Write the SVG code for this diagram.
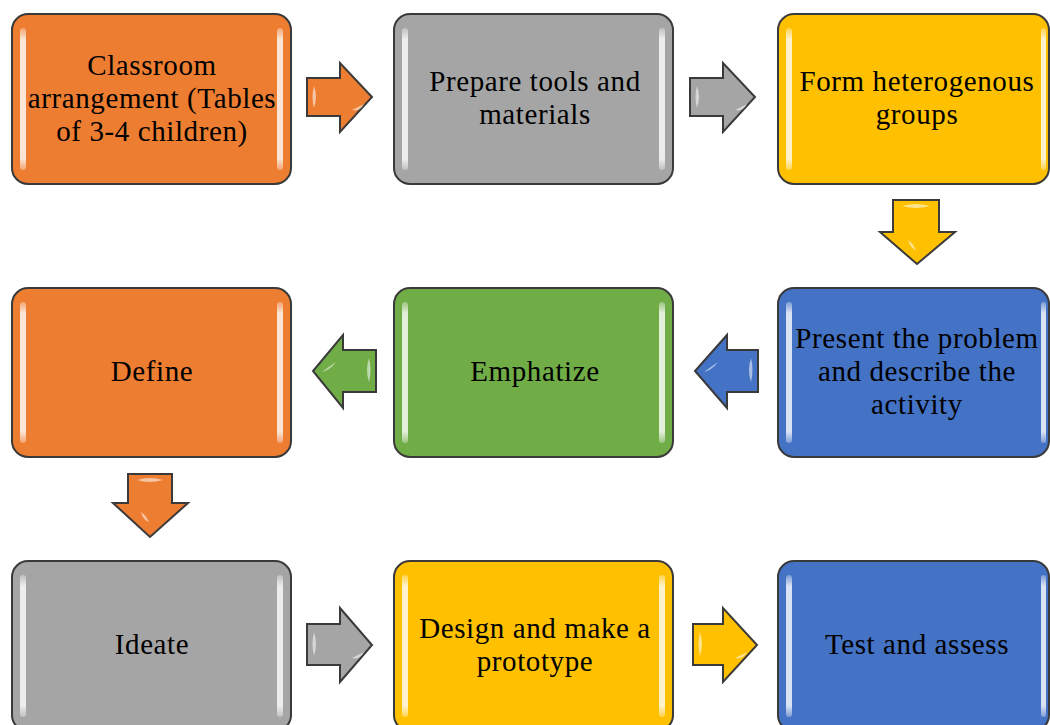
<svg xmlns="http://www.w3.org/2000/svg" width="1050" height="725" viewBox="0 0 1050 725">
<style>
.box{stroke:#3a3a3a;stroke-width:2}
.o{fill:#ED7D31}.g{fill:#A5A5A5}.y{fill:#FFC000}.b{fill:#4472C4}.gr{fill:#70AD47}
.hl{fill:url(#stripe)}
.arr{stroke:#3a3a3a;stroke-width:2;stroke-linejoin:miter}
.shine{fill:#ffffff;opacity:0.55}
text{font-family:"Liberation Serif","Times New Roman",serif;font-size:29px;letter-spacing:0.6px;fill:#000;text-anchor:middle}
</style>
<defs>
<linearGradient id="stripe" x1="0" y1="0" x2="0" y2="1">
<stop offset="0" stop-color="#fff" stop-opacity="0.3"/>
<stop offset="0.08" stop-color="#fff" stop-opacity="0.8"/>
<stop offset="0.92" stop-color="#fff" stop-opacity="0.8"/>
<stop offset="1" stop-color="#fff" stop-opacity="0.3"/>
</linearGradient>
</defs>
<rect width="1050" height="725" fill="#fff"/>

<g id="n1">
<rect class="box o" x="12" y="14" width="279" height="170" rx="16"/>
<rect class="hl" x="20" y="28" width="6" height="142" rx="3"/>
<rect class="hl" x="277" y="28" width="6" height="142" rx="3"/>
<text x="152" y="75">Classroom</text>
<text x="152" y="108">arrangement (Tables</text>
<text x="152" y="141">of 3-4 children)</text>
</g>

<g id="n2">
<rect class="box g" x="394" y="14" width="279" height="170" rx="16"/>
<rect class="hl" x="402" y="28" width="6" height="142" rx="3"/>
<rect class="hl" x="659" y="28" width="6" height="142" rx="3"/>
<text x="535" y="91">Prepare tools and</text>
<text x="535" y="124">materials</text>
</g>

<g id="n3">
<rect class="box y" x="778" y="14" width="271" height="170" rx="16"/>
<rect class="hl" x="786" y="28" width="6" height="142" rx="3"/>
<rect class="hl" x="1041" y="28" width="5" height="142" rx="2.5"/>
<text x="917" y="91">Form heterogenous</text>
<text x="917" y="124">groups</text>
</g>

<g id="n4">
<rect class="box o" x="12" y="288" width="279" height="169" rx="16"/>
<rect class="hl" x="20" y="302" width="6" height="141" rx="3"/>
<rect class="hl" x="277" y="302" width="6" height="141" rx="3"/>
<text x="152" y="381">Define</text>
</g>

<g id="n5">
<rect class="box gr" x="394" y="288" width="279" height="169" rx="16"/>
<rect class="hl" x="402" y="302" width="6" height="141" rx="3"/>
<rect class="hl" x="659" y="302" width="6" height="141" rx="3"/>
<text x="535" y="381">Emphatize</text>
</g>

<g id="n6">
<rect class="box b" x="778" y="288" width="271" height="169" rx="16"/>
<rect class="hl" x="786" y="302" width="6" height="141" rx="3"/>
<rect class="hl" x="1041" y="302" width="5" height="141" rx="2.5"/>
<text x="917" y="348">Present the problem</text>
<text x="917" y="381">and describe the</text>
<text x="917" y="414">activity</text>
</g>

<g id="n7">
<rect class="box g" x="12" y="561" width="279" height="170" rx="16"/>
<rect class="hl" x="20" y="575" width="6" height="142" rx="3"/>
<rect class="hl" x="277" y="575" width="6" height="142" rx="3"/>
<text x="152" y="654">Ideate</text>
</g>

<g id="n8">
<rect class="box y" x="394" y="561" width="279" height="170" rx="16"/>
<rect class="hl" x="402" y="575" width="6" height="142" rx="3"/>
<rect class="hl" x="659" y="575" width="6" height="142" rx="3"/>
<text x="535" y="638">Design and make a</text>
<text x="535" y="671">prototype</text>
</g>

<g id="n9">
<rect class="box b" x="778" y="561" width="271" height="170" rx="16"/>
<rect class="hl" x="786" y="575" width="6" height="142" rx="3"/>
<rect class="hl" x="1041" y="575" width="5" height="142" rx="2.5"/>
<text x="917" y="654">Test and assess</text>
</g>

<g id="connectors">
<polygon class="arr o" points="307,78 340,78 340,63 372,97 340,132 340,116 307,116"/>
<path class="shine" d="M314,86 q4,10 0,22 q-3,-11 0,-22z M352,110 q8,-4 12,-6 q-4,8 -12,6z"/>
<polygon class="arr g" points="690,78 723,78 723,63 755,97 723,132 723,116 690,116"/>
<path class="shine" d="M697,86 q4,10 0,22 q-3,-11 0,-22z M735,110 q8,-4 12,-6 q-4,8 -12,6z"/>
<polygon class="arr y" points="893,200 939,200 939,232 955,232 917,264 880,232 893,232"/>
<path class="shine" d="M902,206 q14,4 28,0 q-14,-4 -28,0z M908,240 q2,8 8,10 q-4,-8 -8,-10z"/>
<polygon class="arr b" points="758,350 727,350 727,335 695,371 727,408 727,392 758,392"/>
<path class="shine" d="M751,358 q-4,12 0,24 q3,-12 0,-24z M704,372 q8,-6 14,-10 q-6,8 -14,10z"/>
<polygon class="arr gr" points="376,350 343,350 343,335 313,371 343,408 343,392 376,392"/>
<path class="shine" d="M369,358 q-4,12 0,24 q3,-12 0,-24z M322,372 q8,-6 14,-10 q-6,8 -14,10z"/>
<polygon class="arr o" points="128,474 172,474 172,503 188,503 150,537 113,503 128,503"/>
<path class="shine" d="M137,480 q13,4 26,0 q-13,-4 -26,0z M141,512 q2,8 8,10 q-4,-8 -8,-10z"/>
<polygon class="arr g" points="307,624 340,624 340,608 372,645 340,682 340,665 307,665"/>
<path class="shine" d="M314,632 q4,12 0,24 q-3,-12 0,-24z M352,658 q8,-4 12,-6 q-4,8 -12,6z"/>
<polygon class="arr y" points="693,624 723,624 723,608 757,645 723,682 723,665 693,665"/>
<path class="shine" d="M700,632 q4,12 0,24 q-3,-12 0,-24z M735,658 q8,-4 12,-6 q-4,8 -12,6z"/>
</g>
</svg>
